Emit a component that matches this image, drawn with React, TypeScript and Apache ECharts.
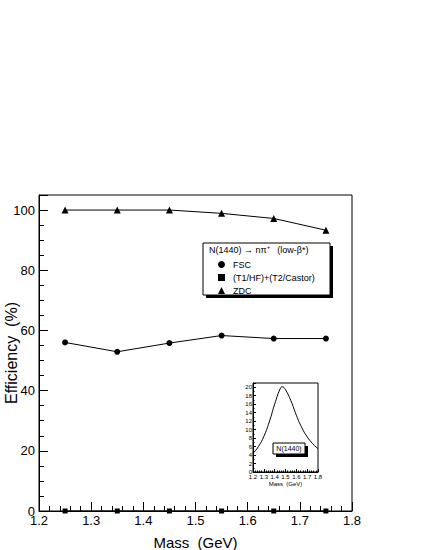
import React, { useEffect, useRef } from "react";
import * as echarts from "echarts";

const FONT = "'Liberation Sans', Arial, Helvetica, sans-serif";

const massPoints = [1.25, 1.35, 1.45, 1.55, 1.65, 1.75];
const fscValues = [56.0, 52.9, 55.8, 58.3, 57.3, 57.3];
const t1hfValues = [0, 0, 0, 0, 0, 0];
const zdcValues = [100, 100, 100, 98.9, 97.2, 93.3];

const insetMass = [1.2, 1.25, 1.3, 1.35, 1.4, 1.45, 1.47, 1.5, 1.55, 1.6, 1.65, 1.7, 1.75, 1.8];
const insetYield = [4.4, 6.0, 8.4, 11.8, 16.0, 19.6, 20.1, 19.4, 16.8, 13.4, 10.5, 8.3, 6.7, 5.5];

const seriesNames = ["FSC", "(T1/HF)+(T2/Castor)", "ZDC"];

const pair = (xs: number[], ys: number[]) => xs.map((x, i) => [x, ys[i]]);

export default function App() {
  const ref = useRef<HTMLDivElement>(null);
  useEffect(() => {
    if (!ref.current) return;
    const chart = echarts.init(ref.current, null, { renderer: "svg" });
    const black = "#000";
    const mainLine = { lineStyle: { color: black, width: 1 } };
    chart.setOption({
      animation: false,
      backgroundColor: "#fff",
      textStyle: { fontFamily: FONT, color: black },
      grid: [
        { left: 39, right: 73, top: 195, bottom: 39, show: true, borderColor: black, borderWidth: 1, backgroundColor: "transparent", outerBoundsMode: "none", containLabel: false },
        { left: 253, right: 107, top: 383, bottom: 78, show: true, borderColor: black, borderWidth: 1, backgroundColor: "transparent", outerBoundsMode: "none", containLabel: false },
      ],
      xAxis: [
        {
          type: "value", gridIndex: 0, min: 1.2, max: 1.8, interval: 0.1,
          name: "Mass  (GeV)", nameLocation: "middle", nameGap: 24, nameMoveOverlap: false,
          nameTextStyle: { fontSize: 15, color: black, fontFamily: FONT },
          axisLine: { show: true, lineStyle: { color: black, width: 1 } },
          axisTick: { show: true, inside: true, length: 9, lineStyle: { color: black } },
          minorTick: { show: true, splitNumber: 5, length: 5, lineStyle: { color: black } },
          splitLine: { show: false },
          axisLabel: { fontSize: 13, color: black, margin: 3, formatter: (v: number) => v.toFixed(1) },
        },
        {
          type: "value", gridIndex: 1, min: 1.2, max: 1.8, interval: 0.1,
          name: "Mass  (GeV)", nameLocation: "middle", nameGap: 9, nameMoveOverlap: false,
          nameTextStyle: { fontSize: 6, color: black, fontFamily: FONT },
          axisLine: { show: true, lineStyle: { color: black, width: 1 } },
          axisTick: { show: true, inside: true, length: 3, lineStyle: { color: black } },
          minorTick: { show: true, splitNumber: 5, length: 1.5, lineStyle: { color: black } },
          splitLine: { show: false },
          axisLabel: { fontSize: 6, color: black, margin: 2, formatter: (v: number) => v.toFixed(1) },
        },
      ],
      yAxis: [
        {
          type: "value", gridIndex: 0, min: 0, max: 105, interval: 20,
          name: "Efficiency  (%)", nameLocation: "middle", nameGap: 20, nameMoveOverlap: false,
          nameTextStyle: { fontSize: 16, color: black, fontFamily: FONT },
          axisLine: { show: true, lineStyle: { color: black, width: 1 } },
          axisTick: { show: true, inside: true, length: 9, lineStyle: { color: black } },
          minorTick: { show: true, splitNumber: 4, length: 5, lineStyle: { color: black } },
          splitLine: { show: false },
          axisLabel: { fontSize: 13, color: black, margin: 4, showMaxLabel: false },
        },
        {
          type: "value", gridIndex: 1, min: 0, max: 21, interval: 2,
          axisLine: { show: true, lineStyle: { color: black, width: 1 } },
          axisTick: { show: true, inside: true, length: 3, lineStyle: { color: black } },
          minorTick: { show: true, splitNumber: 2, length: 1.5, lineStyle: { color: black } },
          splitLine: { show: false },
          axisLabel: { fontSize: 6, color: black, margin: 1, showMaxLabel: false },
        },
      ],
      legend: {
        left: 213, top: 255, orient: "vertical", selectedMode: false, z: 30,
        itemWidth: 7, itemHeight: 7, itemGap: 4,
        data: [
          { name: seriesNames[0], icon: "circle" },
          { name: seriesNames[1], icon: "rect" },
          { name: seriesNames[2], icon: "triangle" },
        ],
        textStyle: { fontSize: 9, lineHeight: 9, color: black, fontFamily: FONT, padding: [0, 0, 0, 3] },
      },
      graphic: [
        { type: "rect", shape: { x: 206, y: 246, width: 127, height: 52 }, style: { fill: black }, z: 10 },
        { type: "rect", shape: { x: 203, y: 243, width: 127, height: 52 }, style: { fill: "#fff", stroke: black, lineWidth: 1 }, z: 11 },
        { type: "text", x: 209, y: 250, style: { text: "N(1440) → nπ⁺   (low-β*)", fontSize: 9, fontFamily: FONT, fill: black, verticalAlign: "middle" }, z: 12 },
        { type: "rect", shape: { x: 276, y: 446, width: 32, height: 11 }, style: { fill: black }, z: 10 },
        { type: "rect", shape: { x: 273, y: 443, width: 32, height: 11 }, style: { fill: "#fff", stroke: black, lineWidth: 1 }, z: 11 },
        { type: "text", x: 289, y: 448.5, style: { text: "N(1440)", fontSize: 7, fontFamily: FONT, fill: black, align: "center", verticalAlign: "middle" }, z: 12 },
      ],
      series: [
        {
          name: seriesNames[0], type: "line", xAxisIndex: 0, yAxisIndex: 0,
          data: pair(massPoints, fscValues), symbol: "circle", symbolSize: 6,
          itemStyle: { color: black }, ...mainLine, clip: false, z: 5,
        },
        {
          name: seriesNames[1], type: "line", xAxisIndex: 0, yAxisIndex: 0,
          data: pair(massPoints, t1hfValues), symbol: "rect", symbolSize: 5,
          itemStyle: { color: black }, ...mainLine, clip: false, z: 5,
        },
        {
          name: seriesNames[2], type: "line", xAxisIndex: 0, yAxisIndex: 0,
          data: pair(massPoints, zdcValues), symbol: "triangle", symbolSize: 7,
          itemStyle: { color: black }, ...mainLine, clip: false, z: 5,
        },
        {
          name: "N(1440) mass spectrum", type: "line", xAxisIndex: 1, yAxisIndex: 1,
          data: pair(insetMass, insetYield), smooth: true, showSymbol: false, symbol: "none",
          lineStyle: { color: black, width: 1 }, z: 5,
        },
      ],
    });
    return () => chart.dispose();
  }, []);
  return <div ref={ref} style={{ position: "absolute", left: 0, top: 0, width: 425, height: 550 }} />;
}
